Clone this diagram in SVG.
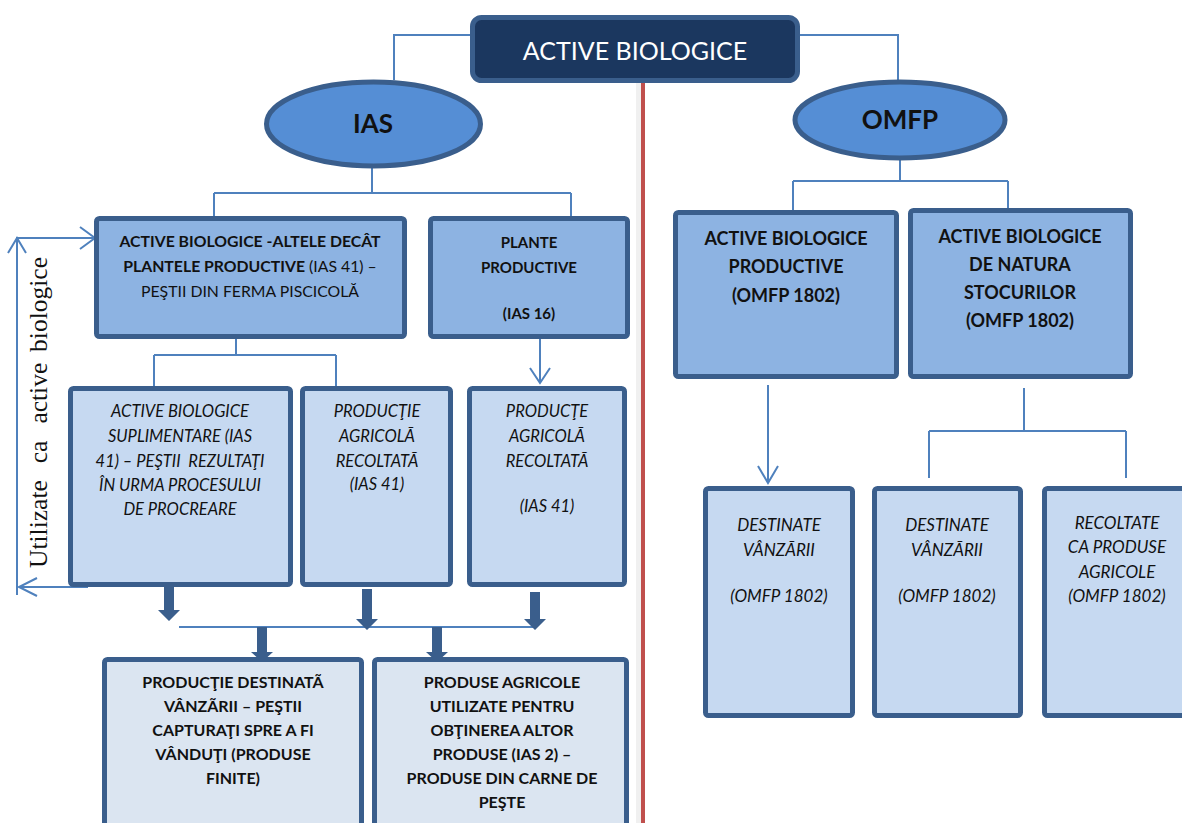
<svg xmlns="http://www.w3.org/2000/svg" width="1182" height="823" viewBox="0 0 1182 823">
<defs>
<style>
.box{stroke:#3a5e8c;stroke-width:5}
.mid{fill:#8db3e2}
.light{fill:#c6d9f1}
.pale{fill:#dbe5f1}
.conn{fill:none;stroke:#4f81bd;stroke-width:2}
.blk{fill:#3a5e8c}
text{font-family:Lato,"Open Sans","Liberation Sans",sans-serif;fill:#111;text-anchor:middle}
.b{font-weight:bold;font-size:15px}
.b1{font-weight:bold;font-size:15.8px}
.r1{font-size:15.8px}
.it{font-style:italic;font-size:16.5px}
.bR{font-weight:bold;font-size:18px}
.itR{font-style:italic;font-size:17px}
.bb{font-weight:bold;font-size:16px}
</style>
</defs>
<rect width="1182" height="823" fill="#ffffff"/>

<!-- red divider -->
<line x1="640" y1="83" x2="640" y2="823" stroke="#000" stroke-opacity="0.06" stroke-width="8"/>
<line x1="643" y1="83" x2="643" y2="823" stroke="#c0504d" stroke-width="4"/>

<g id="connectors">
<path class="conn" d="M472,35 H394 V80 M798,35 H898 V80"/>
<path class="conn" d="M372,168 V193 M214,193 H571 M214,193 V216 M571,193 V216"/>
<path class="conn" d="M236,339 V355 M154,355 H336 M154,355 V386 M336,355 V386"/>
<path class="conn" d="M540,320 V383 M530,368 L540,383 L550,368"/>
<path class="conn" d="M95,238 H17 V595 M88,587 H19"/>
<path class="conn" d="M8,253 L17,238 L26,253 M80,227 L95,238 L80,249 M37,578 L19,587 L37,596"/>
<path class="conn" d="M179,627 H534"/>
<path class="conn" d="M900,160 V181 M793,181 H1008 M793,181 V210 M1008,181 V208"/>
<path class="conn" d="M768,385 V483 M758,466 L768,483 L778,466"/>
<path class="conn" d="M1024,388 V431 M929,431 H1126 M929,431 V478 M1126,431 V478"/>
<!-- block arrows -->
<path class="blk" d="M164,587 H174 V610 H180 L169,621 L158,610 H164 Z"/>
<path class="blk" d="M362,589 H372 V619 H378 L367,630 L356,619 H362 Z"/>
<path class="blk" d="M530,592 H540 V619 H546 L535,630 L524,619 H530 Z"/>
<path class="blk" d="M257,627 H267 V652 H273 L262,662 L251,652 H257 Z"/>
<path class="blk" d="M432,627 H442 V652 H448 L437,662 L426,652 H432 Z"/>
</g>

<g id="n-title">
<rect x="472.5" y="17.5" width="325" height="63" rx="9" fill="#1b375f" class="box"/>
<text x="635" y="60" style="font-size:25px;fill:#ffffff">ACTIVE BIOLOGICE</text>
</g>

<g id="n-ias">
<ellipse cx="373.5" cy="124" rx="107" ry="42" fill="#558ed5" class="box"/>
<text x="373" y="133" style="font-size:26px;font-weight:bold">IAS</text>
</g>

<g id="n-omfp">
<ellipse cx="900" cy="120" rx="105" ry="38" fill="#558ed5" class="box"/>
<text x="900" y="129" style="font-size:26px;font-weight:bold">OMFP</text>
</g>

<g id="n-altele">
<rect x="96.5" y="218.5" width="308" height="118" rx="3" class="box mid"/>
<text x="250" y="247" class="b1">ACTIVE BIOLOGICE -ALTELE DECÂT</text>
<text x="250" y="272" class="r1"><tspan font-weight="bold">PLANTELE PRODUCTIVE</tspan> (IAS 41) –</text>
<text x="250" y="297" class="r1">PEŞTII DIN FERMA PISCICOLĂ</text>
</g>

<g id="n-plante">
<rect x="430.5" y="218.5" width="197" height="118" rx="3" class="box mid"/>
<text x="529" y="248" class="b">PLANTE</text>
<text x="529" y="273" class="b">PRODUCTIVE</text>
<text x="529" y="319" class="b">(IAS 16)</text>
</g>

<g id="n-suplimentare">
<rect x="70.5" y="388.5" width="220" height="196" rx="3" class="box light"/>
<text x="180" y="417" class="it">ACTIVE BIOLOGICE</text>
<text x="180" y="442" class="it">SUPLIMENTARE (IAS</text>
<text x="180" y="467" class="it" xml:space="preserve">41) – PEŞTII  REZULTAŢI</text>
<text x="180" y="491" class="it">ÎN URMA PROCESULUI</text>
<text x="180" y="515" class="it">DE PROCREARE</text>
</g>

<g id="n-productie1">
<rect x="302.5" y="388.5" width="148" height="196" rx="3" class="box light"/>
<text x="377" y="417" class="it">PRODUCŢIE</text>
<text x="377" y="442" class="it">AGRICOLÃ</text>
<text x="377" y="467" class="it">RECOLTATÃ</text>
<text x="377" y="490" class="it">(IAS 41)</text>
</g>

<g id="n-productie2">
<rect x="469.5" y="388.5" width="155" height="196" rx="3" class="box light"/>
<text x="547" y="417" class="it">PRODUCŢE</text>
<text x="547" y="442" class="it">AGRICOLÃ</text>
<text x="547" y="467" class="it">RECOLTATÃ</text>
<text x="547" y="512" class="it">(IAS 41)</text>
</g>

<g id="n-vanzare">
<rect x="104.5" y="659.5" width="257" height="200" rx="3" class="box pale"/>
<text x="233" y="688" class="bb">PRODUCŢIE DESTINATÃ</text>
<text x="233" y="712" class="bb">VÂNZÃRII – PEŞTII</text>
<text x="233" y="736" class="bb">CAPTURAŢI SPRE A FI</text>
<text x="233" y="760" class="bb">VÂNDUŢI (PRODUSE</text>
<text x="233" y="784" class="bb">FINITE)</text>
</g>

<g id="n-produse">
<rect x="374.5" y="659.5" width="252" height="200" rx="3" class="box pale"/>
<text x="502" y="688" class="bb">PRODUSE AGRICOLE</text>
<text x="502" y="712" class="bb">UTILIZATE PENTRU</text>
<text x="502" y="736" class="bb">OBŢINEREA ALTOR</text>
<text x="502" y="760" class="bb">PRODUSE (IAS 2) –</text>
<text x="502" y="784" class="bb">PRODUSE DIN CARNE DE</text>
<text x="502" y="808" class="bb">PEŞTE</text>
</g>

<g id="n-productive-omfp">
<rect x="675.5" y="212.5" width="221" height="164" rx="3" class="box mid"/>
<text x="786" y="245" class="bR">ACTIVE BIOLOGICE</text>
<text x="786" y="273" class="bR">PRODUCTIVE</text>
<text x="786" y="302" class="bR">(OMFP 1802)</text>
</g>

<g id="n-stocuri">
<rect x="910.5" y="210.5" width="220" height="166" rx="3" class="box mid"/>
<text x="1020" y="243" class="bR">ACTIVE BIOLOGICE</text>
<text x="1020" y="271" class="bR">DE NATURA</text>
<text x="1020" y="299" class="bR">STOCURILOR</text>
<text x="1020" y="327" class="bR">(OMFP 1802)</text>
</g>

<g id="n-destinate1">
<rect x="705.5" y="488.5" width="147" height="227" rx="3" class="box light"/>
<text x="779" y="531" class="itR">DESTINATE</text>
<text x="779" y="556" class="itR">VÂNZÃRII</text>
<text x="779" y="602" class="itR">(OMFP 1802)</text>
</g>

<g id="n-destinate2">
<rect x="874.5" y="488.5" width="146" height="227" rx="3" class="box light"/>
<text x="947" y="531" class="itR">DESTINATE</text>
<text x="947" y="556" class="itR">VÂNZÃRII</text>
<text x="947" y="602" class="itR">(OMFP 1802)</text>
</g>

<g id="n-recoltate">
<rect x="1044.5" y="488.5" width="146" height="227" rx="3" class="box light"/>
<text x="1117" y="529" class="itR">RECOLTATE</text>
<text x="1117" y="553" class="itR">CA PRODUSE</text>
<text x="1117" y="578" class="itR">AGRICOLE</text>
<text x="1117" y="602" class="itR">(OMFP 1802)</text>
</g>

<g id="n-label-vertical">
<text transform="translate(47,568) rotate(-90)" style="font-family:'Liberation Serif','Times New Roman',serif;font-size:25.5px;text-anchor:start"><tspan x="0">Utilizate </tspan><tspan x="104.8">ca </tspan><tspan x="144.4">active </tspan><tspan x="216.1">biologice</tspan></text>
</g>
</svg>
